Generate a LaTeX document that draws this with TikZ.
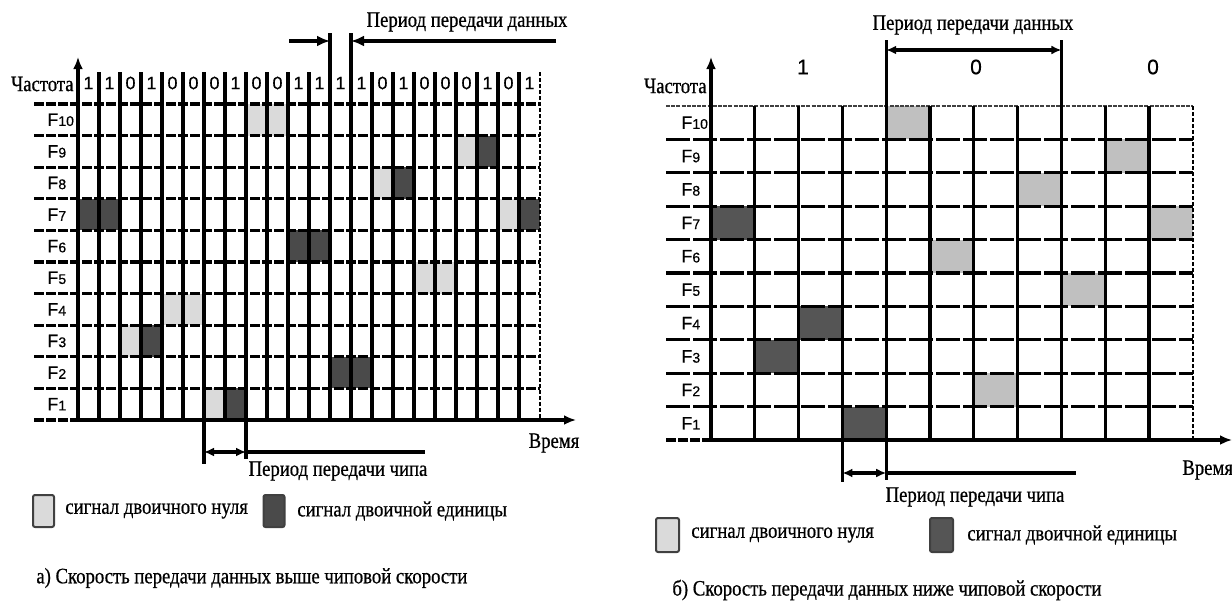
\documentclass[tikz,border=0pt]{standalone}
\usepackage{fontspec}
\setmainfont[FakeStretch=0.85,FakeBold=0.6]{Liberation Serif}
\newfontfamily\sansf[FakeBold=0.4]{Liberation Sans}
\usetikzlibrary{arrows.meta}
\definecolor{lzL}{HTML}{DADADA}
\definecolor{dkL}{HTML}{4A4A4A}
\definecolor{lzR}{HTML}{C0C0C0}
\definecolor{dkR}{HTML}{555555}
\begin{document}
\begin{tikzpicture}[x=0.5pt,y=-0.5pt,
  gl/.style={line width=1.55pt},
  hl/.style={line width=1.55pt, dash pattern=on 5pt off 1pt},
  hr/.style={line width=1.55pt, dash pattern=on 12pt off 1.5pt},
  topr/.style={line width=1.4pt, draw=black!75, dash pattern=on 2pt off 0.6pt},
  edgeline/.style={line width=0.6pt, dash pattern=on 2pt off 1pt},
  ax/.style={line width=1.55pt,-{Latex[length=6pt,width=5pt]}},
  tipr/.style={line width=1.55pt,-{Latex[length=6.5pt,width=5.5pt]}},
  dim/.style={line width=1.55pt,{Latex[length=5pt,width=4.5pt]}-{Latex[length=5pt,width=4.5pt]}},
  lbl/.style={font=\fontsize{11}{13}\selectfont, inner sep=0pt},
  bit/.style={font=\sansf\fontsize{9}{10}\selectfont, inner sep=0pt},
  rbit/.style={font=\sansf\fontsize{10.5}{12}\selectfont, inner sep=0pt},
  fl/.style={font=\sansf\fontsize{9}{10}\selectfont, inner sep=0pt, anchor=west},
  legbox/.style={draw=black!75, line width=1pt, rounded corners=1pt, inner sep=0pt, minimum width=10.5pt, minimum height=16pt}]
\useasboundingbox (0,0) rectangle (1232,605);
\fill[white] (0,0) rectangle (1232,605);

% ================= LEFT PANEL =================
% cells
\foreach \c/\f/\s in {9/10/lzL,10/10/lzL,19/9/lzL,20/9/dkL,15/8/lzL,16/8/dkL,
  1/7/dkL,2/7/dkL,21/7/lzL,22/7/dkL,11/6/dkL,12/6/dkL,17/5/lzL,18/5/lzL,
  5/4/lzL,6/4/lzL,3/3/lzL,4/3/dkL,13/2/dkL,14/2/dkL,7/1/lzL,8/1/dkL}
  \fill[\s] ({78+21*(\c-1)},{104+31.6*(10-\f)}) rectangle ++(21,31.6);
% horizontal lines
\foreach \j in {0,...,9} \draw[hl] (34,{104+31.6*\j}) -- (540,{104+31.6*\j});
% vertical lines
\foreach \i in {1,...,21} \draw[gl] ({78+21*\i},72) -- ({78+21*\i},420);
\draw[edgeline] (540,72) -- (540,420);
% axes
\coordinate (lO) at (78,420);
\coordinate (lYt) at (78,57);
\coordinate (lXt) at (576,420);
\coordinate (lXl) at (34,420);
\draw[hl] (lXl) -- (lO);
\draw[ax] (lO) -- (lYt);
\draw[ax] (lO) -- (lXt);
\node[lbl, anchor=east] (lfreq) at (74,84) {Частота};
\node[lbl] (ltime) at (554,443) {Время};
% bits
\foreach \b [count=\i] in {1,1,0,1,0,0,0,1,0,0,1,1,1,1,0,1,0,0,0,1,0,1}
  \node[bit] (lb\i) at ({78+21*(\i-0.5)},83) {\b};
% row labels
\foreach \f in {1,...,10}
  \node[fl] (lF\f) at (47,{104+31.6*(10.5-\f)}) {F{\fontsize{7}{8}\selectfont\f}};
% data period
\coordinate (ldA) at (330,33);
\coordinate (ldB) at (351,33);
\draw[gl] (ldA) -- (330,72);
\draw[gl] (ldB) -- (351,72);
\coordinate (ldL) at (289,41);
\coordinate (ldLt) at (330,41);
\coordinate (ldR) at (556,41);
\coordinate (ldRt) at (351,41);
\draw[tipr] (ldL) -- (ldLt);
\draw[tipr] (ldR) -- (ldRt);
\node[lbl] (ldT) at (467,22) {Период передачи данных};
% chip period
\coordinate (lcA) at (204,420);
\coordinate (lcB) at (246,420);
\coordinate (lcA2) at (204,464);
\coordinate (lcB2) at (246,459);
\draw[gl] (lcA) -- (lcA2);
\draw[gl] (lcB) -- (lcB2);
\coordinate (lcL) at (204,452);
\coordinate (lcR) at (246,452);
\coordinate (lcE) at (425,452);
\draw[dim] (lcL) -- (lcR);
\draw[gl] (lcR) -- (lcE);
\node[lbl] (lcT) at (338,471) {Период передачи чипа};
% legend
\node[legbox, fill=lzL] (lleg0) at (43.5,511) {};
\node[lbl, anchor=west] (llegt0) at (65,511) {сигнал двоичного нуля};
\node[legbox, fill=dkL] (lleg1) at (274,511) {};
\node[lbl, anchor=west] (llegt1) at (297,511) {сигнал двоичной единицы};
\node[lbl, anchor=west] (lcap) at (36,578) {а) Скорость передачи данных выше чиповой скорости};

% ================= RIGHT PANEL =================
\foreach \c/\f/\s in {5/10/lzR,10/9/lzR,8/8/lzR,1/7/dkR,11/7/lzR,6/6/lzR,
  9/5/lzR,3/4/dkR,2/3/dkR,7/2/lzR,4/1/dkR}
  \fill[\s] ({711+43.8*(\c-1)},{106+33.4*(10-\f)}) rectangle ++(43.8,33.4);
\draw[topr] (666,106) -- (1193,106);
\foreach \j in {1,...,9} \draw[hr] (666,{106+33.4*\j}) -- (1193,{106+33.4*\j});
\foreach \i in {1,...,10} \draw[gl] ({711+43.8*\i},106) -- ({711+43.8*\i},440);
\draw[edgeline] (1193,106) -- (1193,440);
\coordinate (rO) at (711,440);
\coordinate (rYt) at (711,57);
\coordinate (rXt) at (1232,440);
\coordinate (rXl) at (666,440);
\draw[hl] (rXl) -- (rO);
\draw[ax] (rO) -- (rYt);
\draw[ax] (rO) -- (rXt);
\node[lbl, anchor=east] (rfreq) at (707,86) {Частота};
\node[lbl, anchor=west] (rtime) at (1182,470) {Время};
\node[rbit] (rb1) at (803,67) {1};
\node[rbit] (rb2) at (976,67) {0};
\node[rbit] (rb3) at (1153,67) {0};
\foreach \f in {1,...,10}
  \node[fl] (rF\f) at (681,{106+33.4*(10.5-\f)}) {F{\fontsize{7}{8}\selectfont\f}};
% data period
\coordinate (rdA) at (886.2,40);
\coordinate (rdB) at (1061.4,40);
\draw[gl] (rdA) -- (886.2,106);
\draw[gl] (rdB) -- (1061.4,106);
\coordinate (rdL) at (886.2,50);
\coordinate (rdR) at (1061.4,50);
\draw[dim] (rdL) -- (rdR);
\node[lbl] (rdT) at (973,25) {Период передачи данных};
% chip period
\coordinate (rcA) at (842.4,440);
\coordinate (rcB) at (886.2,440);
\coordinate (rcA2) at (842.4,482);
\coordinate (rcB2) at (886.2,480);
\draw[gl] (rcA) -- (rcA2);
\draw[gl] (rcB) -- (rcB2);
\coordinate (rcL) at (842.4,473);
\coordinate (rcR) at (886.2,473);
\coordinate (rcE) at (1076,473);
\draw[dim] (rcL) -- (rcR);
\draw[gl] (rcR) -- (rcE);
\node[lbl] (rcT) at (975,497) {Период передачи чипа};
% legend
\node[legbox, fill=lzL, minimum height=17pt, minimum width=11.5pt] (rleg0) at (667.5,535) {};
\node[lbl, anchor=west] (rlegt0) at (691,535) {сигнал двоичного нуля};
\node[legbox, fill=dkR, minimum height=17pt, minimum width=11.5pt] (rleg1) at (941.5,535) {};
\node[lbl, anchor=west] (rlegt1) at (967,535) {сигнал двоичной единицы};
\node[lbl, anchor=west] (rcap) at (672,590) {б) Скорость передачи данных ниже чиповой скорости};
\end{tikzpicture}
\end{document}
